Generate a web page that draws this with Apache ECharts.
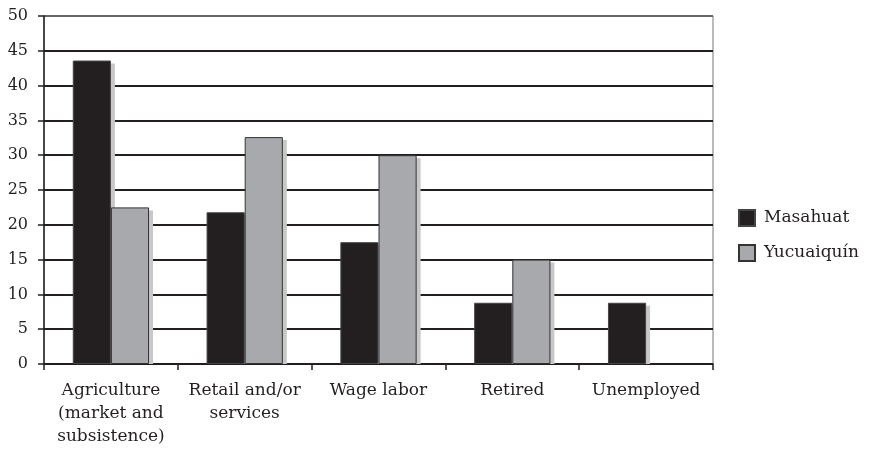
<!DOCTYPE html>
<html>
<head>
<meta charset="utf-8">
<script src="https://cdn.jsdelivr.net/npm/echarts@6/dist/echarts.min.js"></script>
<style>html,body{margin:0;padding:0;background:#fff;}#c{width:874px;height:450px;}</style>
</head>
<body>
<div id="c"></div>
<script>
var categories = ['Agriculture\n(market and\nsubsistence)', 'Retail and/or\nservices', 'Wage labor', 'Retired', 'Unemployed'];
var masahuat = [43.6, 21.8, 17.5, 8.8, 8.8];
var yucuaiquin = [22.5, 32.6, 30.0, 15.0, null];
var seriesNames = ['Masahuat', 'Yucuaiquín'];

var font = 'DejaVu Serif';
var ink = '#231f20';
var catGap = 0.43;
var chart = echarts.init(document.getElementById('c'), null, {renderer: 'canvas'});
var gridColors = ['#231f20','#231f20','#231f20','#231f20','#231f20','#231f20','#231f20','#231f20','#231f20','#231f20','#666666'];

function shadowSeries(data, idx) {
  return {
    type: 'custom', silent: true, z: 2,
    data: data.map(function (v, i) { return [i, v]; }),
    renderItem: function (params, api) {
      var v = api.value(1);
      if (v == null || isNaN(v)) return null;
      var top = api.coord([api.value(0), v]);
      var zero = api.coord([api.value(0), 0]);
      var band = api.size([1, 0])[0];
      var bw = band * (1 - catGap) / 2;
      var x0 = top[0] - bw + idx * bw;
      return {
        type: 'rect',
        shape: {x: x0 + 4, y: top[1] + 3, width: bw, height: zero[1] - top[1] - 3},
        style: {fill: '#c8c8c8'}
      };
    }
  };
}

chart.setOption({
  animation: false,
  backgroundColor: '#fff',
  grid: {left: 44, right: 161, top: 16, bottom: 86, show: true, borderColor: '#777', borderWidth: 1},
  legend: {
    orient: 'vertical', left: 733, top: 204,
    itemWidth: 16, itemHeight: 16, itemGap: 17, icon: 'rect',
    textStyle: {fontFamily: font, fontSize: 17, color: ink, padding: [0, 0, 0, 4]},
    data: seriesNames
  },
  xAxis: {
    type: 'category', data: categories,
    axisLine: {lineStyle: {color: ink, width: 1.5}},
    axisTick: {show: true, length: 6, lineStyle: {color: ink, width: 1.5}},
    axisLabel: {fontFamily: font, fontSize: 17, color: ink, lineHeight: 23, margin: 15, interval: 0}
  },
  yAxis: {
    type: 'value', min: 0, max: 50, interval: 5,
    axisLine: {show: true, lineStyle: {color: ink, width: 1.5}},
    axisTick: {show: true, length: 6, lineStyle: {color: ink, width: 1.5}},
    axisLabel: {fontFamily: font, fontSize: 16, color: ink, margin: 16},
    splitLine: {lineStyle: {color: gridColors, width: 1.8}}
  },
  series: [
    shadowSeries(masahuat, 0),
    shadowSeries(yucuaiquin, 1),
    {
      name: seriesNames[0], type: 'bar', data: masahuat, z: 3,
      barGap: '0%', barCategoryGap: '43%',
      itemStyle: {color: '#231f20', borderColor: '#444', borderWidth: 1}
    },
    {
      name: seriesNames[1], type: 'bar', data: yucuaiquin, z: 3,
      barGap: '0%', barCategoryGap: '43%',
      itemStyle: {color: '#a7a9ac', borderColor: '#333', borderWidth: 1}
    }
  ]
});
</script>
</body>
</html>
